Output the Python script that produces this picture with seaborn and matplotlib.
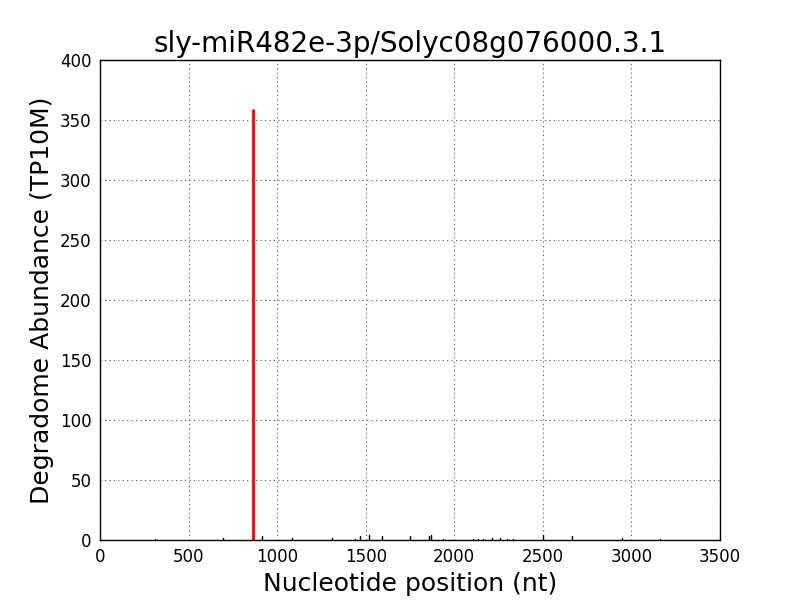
import numpy as np
import pandas as pd
import seaborn as sns
import matplotlib
matplotlib.use("Agg")
import matplotlib.pyplot as plt

titulo = "sly-miR482e-3p/Solyc08g076000.3.1"

# picos pequenos de degradoma (posição, abundância)
pos_fundo = [310, 694, 915, 1084, 1310, 1440, 1468, 1518, 1592, 1750, 1857, 1868,
             1936, 2106, 2134, 2162, 2213, 2258, 2297, 2332, 2501, 2664, 2947, 3161]
val_fundo = [1, 2, 3, 2, 2, 1, 3, 4, 3, 3, 3, 4,
             1, 1, 1, 1, 2, 2, 1, 1, 4, 3, 2, 1]

# sítio de clivagem
pos_alvo = 864
val_alvo = 358

sns.set_style("white")
plt.rcParams.update({
    "font.family": ["DejaVu Sans"],
    "text.color": "black",
    "axes.labelcolor": "black",
    "xtick.color": "black",
    "ytick.color": "black",
})

linhas = []
for i, (p, v) in enumerate(zip(pos_fundo, val_fundo)):
    linhas.append({"pico": i, "pos": p, "val": 0})
    linhas.append({"pico": i, "pos": p, "val": v})
df = pd.DataFrame(linhas)
df_alvo = pd.DataFrame({"pico": [0, 0], "pos": [pos_alvo, pos_alvo], "val": [0, val_alvo]})

fig, ax = plt.subplots(figsize=(8, 6), dpi=100)
fig.subplots_adjust(left=0.125, right=0.9, bottom=0.1, top=0.9)

sns.lineplot(data=df, x="pos", y="val", units="pico", estimator=None,
             color="black", linewidth=1, ax=ax, sort=False)
sns.lineplot(data=df_alvo, x="pos", y="val", units="pico", estimator=None,
             color="red", linewidth=2, ax=ax, sort=False)

ax.set_xlim(0, 3500)
ax.set_ylim(0, 400)
ax.set_xticks(np.arange(0, 3501, 500))
ax.set_yticks(np.arange(0, 401, 50))
ax.tick_params(labelsize=12, length=0, pad=6)
ax.grid(True, linestyle=(0, (1, 3)), color="#555555", linewidth=0.8)
for s in ax.spines.values():
    s.set_color("black")
    s.set_linewidth(1)

ax.set_title(titulo, fontsize=20)
ax.set_xlabel("Nucleotide position (nt)", fontsize=18)
ax.set_ylabel("Degradome Abundance (TP10M)", fontsize=18)

fig.savefig("out.png", dpi=100)
